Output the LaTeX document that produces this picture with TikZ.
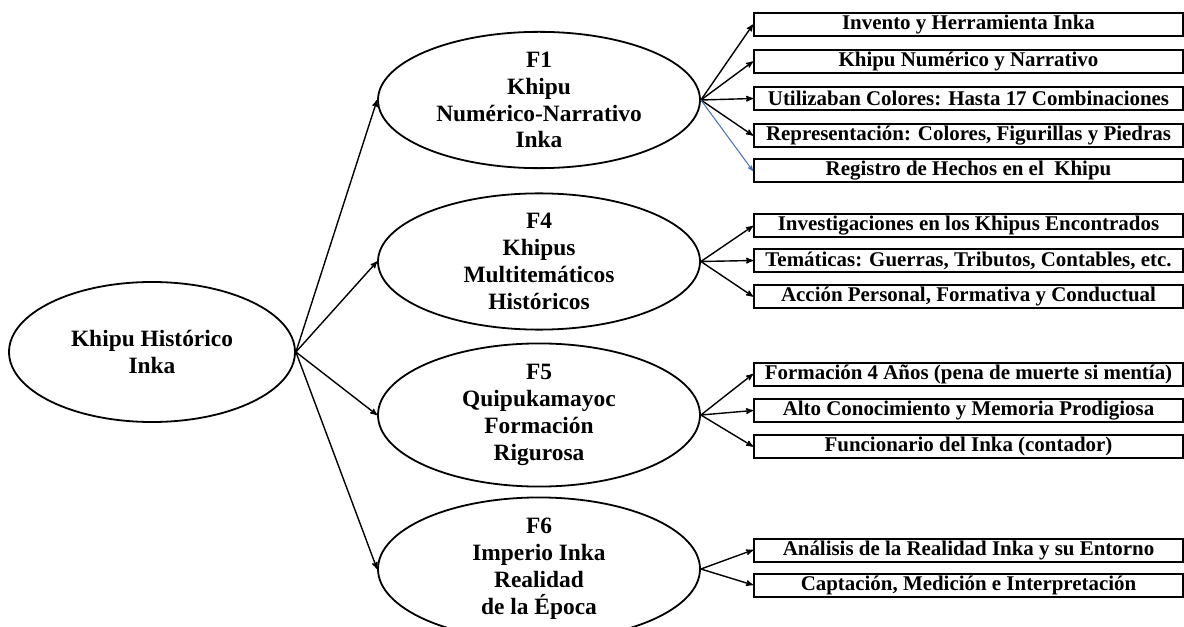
\documentclass[tikz,border=0pt]{standalone}
\usepackage{fontspec}
\setmainfont{Liberation Serif}
\usetikzlibrary{arrows,shapes.geometric}
\definecolor{edgeblue}{RGB}{70,110,185}

\begin{document}
\begin{tikzpicture}[x=1bp,y=-1bp]
    \useasboundingbox (0,0) rectangle (1184,627);
    \tikzset{FactorStyle/.style={draw, ellipse, line width=1.8bp, inner sep=0pt,
        minimum width=322bp, minimum height=124bp, align=center,
        font=\fontsize{23.5}{27}\selectfont\bfseries}}
    \tikzset{ItemStyle/.style={draw, rectangle, line width=2bp, inner sep=0pt,
        minimum width=429bp, minimum height=23bp,
        font=\fontsize{21}{22}\selectfont\bfseries}}
    \tikzset{EdgeStyle/.style={->, >=stealth', line width=1.4bp}}

    \node[FactorStyle, minimum width=286bp, minimum height=140bp, font=\fontsize{23.5}{28}\selectfont\bfseries] (K) at (152,352) {Khipu Histórico\\Inka};

    \node[FactorStyle] (F1) at (539,100) {F1\\Khipu\\Numérico-Narrativo\\Inka};
    \node[FactorStyle] (F4) at (539,261.5) {F4\\Khipus\\Multitemáticos\\Históricos};
    \node[FactorStyle] (F5) at (539,415) {F5\\Quipukamayoc\\Formación\\Rigurosa};
    \node[FactorStyle, minimum height=126bp] (F6) at (539,569) {F6\\Imperio Inka\\Realidad\\de la Época};

    % F1
    \node[ItemStyle] (F1a) at (968.5,24.5) {Invento y Herramienta Inka};
    \node[ItemStyle] (F1b) at (968.5,61.5) {Khipu Numérico y Narrativo};
    \node[ItemStyle] (F1c) at (968.5,98.5) {Utilizaban Colores: Hasta 17 Combinaciones};
    \node[ItemStyle] (F1d) at (968.5,135.5) {Representación: Colores, Figurillas y Piedras};
    \node[ItemStyle] (F1e) at (968.5,171) {Registro de Hechos en el\ \ Khipu};
    % F4
    \node[ItemStyle] (F4a) at (968.5,226) {Investigaciones en los Khipus Encontrados};
    \node[ItemStyle] (F4b) at (968.5,260.5) {Temáticas: Guerras, Tributos, Contables, etc.};
    \node[ItemStyle] (F4c) at (968.5,296.5) {Acción Personal, Formativa y Conductual};
    % F5
    \node[ItemStyle] (F5a) at (968.5,374) {Formación 4 Años (pena de muerte si mentía)};
    \node[ItemStyle] (F5b) at (968.5,410.5) {Alto Conocimiento y Memoria Prodigiosa};
    \node[ItemStyle] (F5c) at (968.5,446.5) {Funcionario del Inka (contador)};
    % F6
    \node[ItemStyle] (F6a) at (968.5,550) {Análisis de la Realidad Inka y su Entorno};
    \node[ItemStyle] (F6b) at (968.5,585) {Captación, Medición e Interpretación};

    \draw[EdgeStyle] (K.east) -- (F1.west);
    \draw[EdgeStyle] (K.east) -- (F4.west);
    \draw[EdgeStyle] (K.east) -- (F5.west);
    \draw[EdgeStyle] (K.east) -- (F6.west);

    \draw[EdgeStyle] (F1.east) -- (F1a.west);
    \draw[EdgeStyle] (F1.east) -- (F1b.west);
    \draw[EdgeStyle] (F1.east) -- (F1c.west);
    \draw[EdgeStyle] (F1.east) -- (F1d.west);
    \draw[EdgeStyle, edgeblue, line width=1bp] (F1.east) -- (F1e.west);

    \draw[EdgeStyle] (F4.east) -- (F4a.west);
    \draw[EdgeStyle] (F4.east) -- (F4b.west);
    \draw[EdgeStyle] (F4.east) -- (F4c.west);

    \draw[EdgeStyle] (F5.east) -- (F5a.west);
    \draw[EdgeStyle] (F5.east) -- (F5b.west);
    \draw[EdgeStyle] (F5.east) -- (F5c.west);

    \draw[EdgeStyle] (F6.east) -- (F6a.west);
    \draw[EdgeStyle] (F6.east) -- (F6b.west);
\end{tikzpicture}
\end{document}
